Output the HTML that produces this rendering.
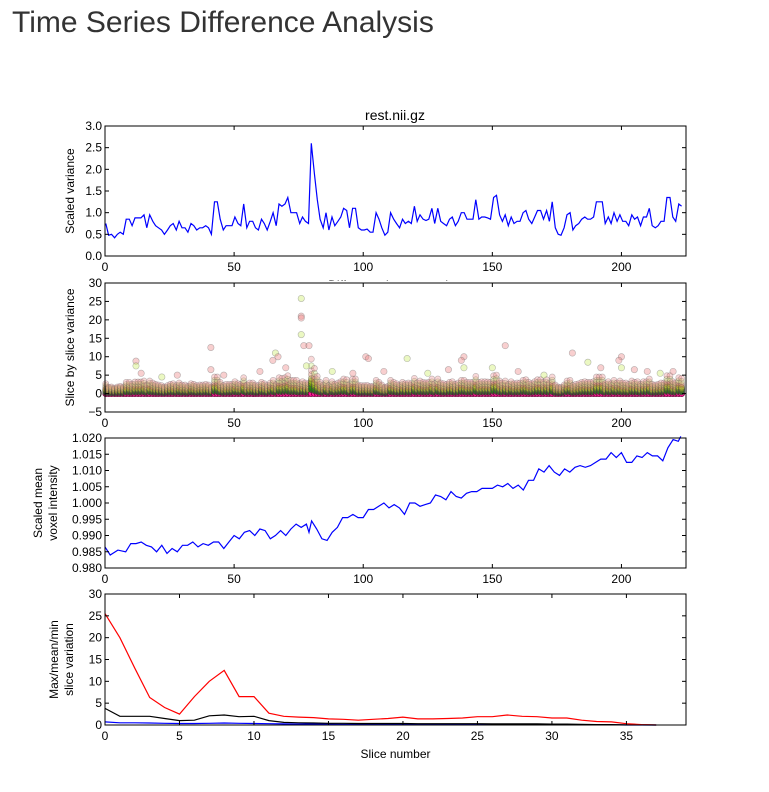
<!DOCTYPE html>
<html><head><meta charset="utf-8"><style>
body{margin:0;background:#fff;width:769px;height:792px;overflow:hidden;font-family:"Liberation Sans",sans-serif}
#t{position:absolute;left:12px;top:6px;font-size:30px;color:#333;margin:0;font-weight:normal}
svg{position:absolute;left:0;top:0}
text{font-family:"Liberation Sans",sans-serif;font-size:12px;fill:#000}
</style></head><body>
<h1 id="t">Time Series Difference Analysis</h1>
<svg id="s" width="769" height="792"></svg>
<script>
const variance=[0.75,0.48,0.5,0.42,0.5,0.55,0.5,0.85,0.85,0.7,0.88,0.88,0.88,0.95,0.65,0.95,0.8,0.7,0.65,0.6,0.5,0.6,0.7,0.75,0.6,0.8,0.65,0.65,0.55,0.75,0.7,0.6,0.65,0.65,0.7,0.65,0.5,1.25,1.25,0.85,0.6,0.7,0.7,0.7,0.9,0.75,0.7,1.2,0.65,0.8,0.8,0.65,0.6,0.85,0.75,0.6,0.8,1.0,0.7,1.2,1.15,1.2,1.35,1.0,1.0,1.0,0.75,0.9,0.8,0.75,2.6,1.9,1.3,0.85,0.65,1.0,0.6,0.9,0.7,0.8,0.9,1.1,1.05,0.65,1.1,1.1,0.65,0.6,0.6,0.62,0.55,0.55,1.0,0.85,0.65,0.48,0.55,1.0,0.85,0.75,0.65,0.85,0.75,0.8,0.75,1.15,0.8,0.95,0.85,0.82,0.85,1.1,0.75,1.1,0.8,0.75,0.7,0.85,0.9,0.7,0.8,1.0,1.0,0.85,0.85,0.85,1.3,0.85,0.9,0.9,0.88,0.85,1.35,1.4,0.95,0.8,0.95,0.7,0.9,0.75,0.8,0.8,1.0,1.05,0.85,0.75,0.9,1.05,1.05,0.85,1.05,0.8,1.25,0.65,0.5,0.48,0.65,0.95,1.0,0.6,0.7,0.75,0.85,0.9,0.85,0.85,0.9,1.25,1.25,1.25,0.75,0.9,0.75,1.0,0.8,0.95,0.8,0.8,0.7,0.95,0.85,0.9,0.7,0.9,0.9,1.1,0.7,0.65,0.7,0.8,0.8,1.35,1.35,0.9,0.8,1.2,1.15];
const imageNumber=variance.map((v,i)=>+(0.26+1.138*i).toFixed(1));
const meanIdx=[0,2,5,8,10,12,14,16,18,20,22,24,26,28,30,32,34,36,38,40,42,44,46,48,50,52,54,56,58,60,62,64,66,68,70,72,74,76,78,79,80,82,84,86,88,90,92,94,96,98,100,102,104,106,108,110,112,114,116,118,120,122,124,126,128,130,132,134,136,138,140,142,144,146,148,150,152,154,156,158,160,162,164,166,168,170,172,174,176,178,180,182,184,186,188,190,192,194,196,198,200,202,204,206,208,210,212,214,216,218,220,222,223];
const meanVals=[0.9865,0.984,0.9855,0.985,0.9875,0.9875,0.988,0.987,0.9865,0.985,0.987,0.9845,0.986,0.985,0.987,0.987,0.988,0.9865,0.9875,0.987,0.988,0.988,0.986,0.988,0.990,0.989,0.991,0.9915,0.990,0.992,0.9915,0.989,0.990,0.9915,0.990,0.992,0.9935,0.9925,0.9935,0.991,0.9945,0.992,0.989,0.9885,0.991,0.9925,0.9955,0.9955,0.9965,0.9955,0.9955,0.998,0.998,0.999,1.0,0.9985,0.9995,0.9985,0.9965,1.0,1.0,0.999,0.9995,1.0,1.0025,1.002,1.001,1.0035,1.002,1.0015,1.003,1.0035,1.0035,1.0045,1.0045,1.0045,1.0055,1.005,1.006,1.0045,1.0055,1.004,1.007,1.007,1.0105,1.0095,1.0115,1.0095,1.0085,1.0105,1.0095,1.011,1.0115,1.011,1.0115,1.0125,1.0135,1.0135,1.0155,1.014,1.0155,1.0125,1.0125,1.0145,1.014,1.0155,1.0145,1.0145,1.013,1.017,1.0195,1.019,1.0205];
const sliceMax=[25.5,20,13,6.3,4,2.5,6.5,10,12.5,6.5,6.5,2.7,2,1.8,1.7,1.4,1.3,1.1,1.3,1.5,1.8,1.4,1.4,1.5,1.6,1.9,1.9,2.3,2,1.9,1.6,1.6,1.1,0.8,0.7,0.3,0.1,0.0];
const sliceMean=[3.8,2,2,2,1.5,1,1.1,2.1,2.3,1.9,2,1,0.6,0.5,0.45,0.4,0.4,0.35,0.35,0.35,0.35,0.3,0.3,0.3,0.3,0.3,0.25,0.25,0.25,0.25,0.2,0.2,0.15,0.1,0.1,0.05,0.02,0];
const sliceMin=[0.7,0.5,0.5,0.45,0.4,0.35,0.35,0.4,0.45,0.4,0.35,0.3,0.25,0.2,0.2,0.2,0.15,0.15,0.15,0.15,0.15,0.1,0.1,0.1,0.1,0.1,0.1,0.1,0.1,0.1,0.1,0.05,0.05,0.05,0.05,0,0,0];
const sliceLevel=[0,0,0,0.4,0.6,0.8,1.0,1.1,1.3,1.5,1.6,2.0,2.4,2.9,3.6];
const outlierIdx=[12,12,41,41,66,65,67,76,76,76,76,77,79,78,101,102,117,139,138,139,155,181,187,200,199,200,28,60,150,210,14,22,46,70,88,96,108,125,133,160,170,192,205,215,220];
const outlierVal=[8.8,7.5,12.5,6.5,11,9,10,25.8,21,20.5,16,13,13,7.5,10,9.5,9.5,10,9,7,13,11,8.5,10,9,7,5,6,7,6,5.5,4.5,5,7,6,5.5,6,5.5,6.5,6,5,7,6.5,5.5,6];
const xTicks1=[0,50,100,150,200];
const xTicks4=[0,5,10,15,20,25,30,35];
const NS="http://www.w3.org/2000/svg";
const svg=document.getElementById('s');
const L=105,R=686;
function el(tag,attrs,parent){const e=document.createElementNS(NS,tag);for(const k in attrs)e.setAttribute(k,attrs[k]);(parent||svg).appendChild(e);return e;}
function txt(x,y,s,anchor,parent,rot){const e=el('text',{x:x,y:y,'text-anchor':anchor||'middle'},parent);if(rot)e.setAttribute('transform','rotate(-90 '+x+' '+y+')');e.textContent=s;return e;}
function panel(name,top,bot,xmax,ymin,ymax,yt,ylabels,xt,ylab,xlab){
  const g=el('g',{});
  
  
  el('rect',{x:L-60,y:top-2,width:R-L+70,height:bot-top+40,fill:'#fff'},g);
  const sx=v=>L+(v/xmax)*(R-L), sy=v=>bot-(v-ymin)/(ymax-ymin)*(bot-top);
  const plot=el('g',{},g);
  const axes=el('g',{},g);
  el('rect',{x:L,y:top,width:R-L,height:bot-top,fill:'none',stroke:'#000','stroke-width':1},axes);
  xt.forEach(v=>{const x=sx(v);el('line',{x1:x,x2:x,y1:bot,y2:bot-4,stroke:'#000'},axes);el('line',{x1:x,x2:x,y1:top,y2:top+4,stroke:'#000'},axes);const t=txt(x,bot+15,String(v),'middle',axes);});
  yt.forEach((v,i)=>{const y=sy(v);el('line',{x1:L,x2:L+4,y1:y,y2:y,stroke:'#000'},axes);el('line',{x1:R,x2:R-4,y1:y,y2:y,stroke:'#000'},axes);const t=txt(L-3,y+4,ylabels[i],'end',axes);});
  ylab.forEach((s,i)=>{const t=txt(ylab.length>1?(i==0?42:57)+(name=='slice-variation-panel'?16:0):74,(top+bot)/2,s,'middle',axes,true);});
  if(xlab){const t=txt((L+R)/2,bot+33,xlab,'middle',axes);}
  return {g:plot,sx:sx,sy:sy};
}
function line(p,xs,ys,color,name){
  const d=xs.map((x,i)=>(i?'L':'M')+p.sx(x).toFixed(1)+','+p.sy(ys[i]).toFixed(1)).join('');
  const e=el('path',{d:d,fill:'none',stroke:color,'stroke-width':1.2},p.g);
  
  
}
const t1=txt(395,120,'rest.nii.gz');t1.style.fontSize='14px';
const p1=panel('scaled-variance-panel',126,256,225,0,3,[0,0.5,1,1.5,2,2.5,3],['0.0','0.5','1.0','1.5','2.0','2.5','3.0'],xTicks1,['Scaled variance'],'Difference image number');
line(p1,imageNumber,variance,'#0000ff','variance-line');
const p2=panel('slice-variance-panel',283,412,225,-5,30,[-5,0,5,10,15,20,25,30],['−5','0','5','10','15','20','25','30'],xTicks1,['Slice by slice variance'],'Difference image number');
const cols=['#ff1493','#ff1493','#ff1493','#007700','#119900','#33aa00','#669900','#88bb00','#aacc22','#cc7744','#bbdd55','#dd7755','#ee9999','#ccee77','#ee9090'];
variance.forEach((v,i)=>{
  sliceLevel.forEach((lv,s)=>{
    const c=el('circle',{cx:p2.sx(imageNumber[i]),cy:p2.sy(lv*v),r:3,fill:cols[s],'fill-opacity':s<3?0.9:(s<9?0.7:0.35),stroke:s<3?'#500028':'#444','stroke-opacity':s<9?0.7:0.35,'stroke-width':0.6},p2.g);
    
    
  });
});
outlierIdx.forEach((ix,k)=>{
  const c=el('circle',{cx:p2.sx(ix),cy:p2.sy(outlierVal[k]),r:3.2,fill:k%3==1?'#ccee66':'#ee8888','fill-opacity':0.4,stroke:'#777','stroke-opacity':0.5,'stroke-width':0.6},p2.g);
  
  
});
const p3=panel('mean-intensity-panel',438,568,225,0.98,1.02,[0.98,0.985,0.99,0.995,1.0,1.005,1.01,1.015,1.02],['0.980','0.985','0.990','0.995','1.000','1.005','1.010','1.015','1.020'],xTicks1,['Scaled mean','voxel intensity'],'Image number');
line(p3,meanIdx,meanVals,'#0000ff','mean-intensity-line');
const p4=panel('slice-variation-panel',594,725,39,0,30,[0,5,10,15,20,25,30],['0','5','10','15','20','25','30'],xTicks4,['Max/mean/min','slice variation'],'Slice number');
const sIdx=sliceMax.map((v,i)=>i);
line(p4,sIdx,sliceMin,'#0000ff','min-line');
line(p4,sIdx,sliceMean,'#000000','mean-line');
line(p4,sIdx,sliceMax,'#ff0000','max-line');
</script>
</body></html>
